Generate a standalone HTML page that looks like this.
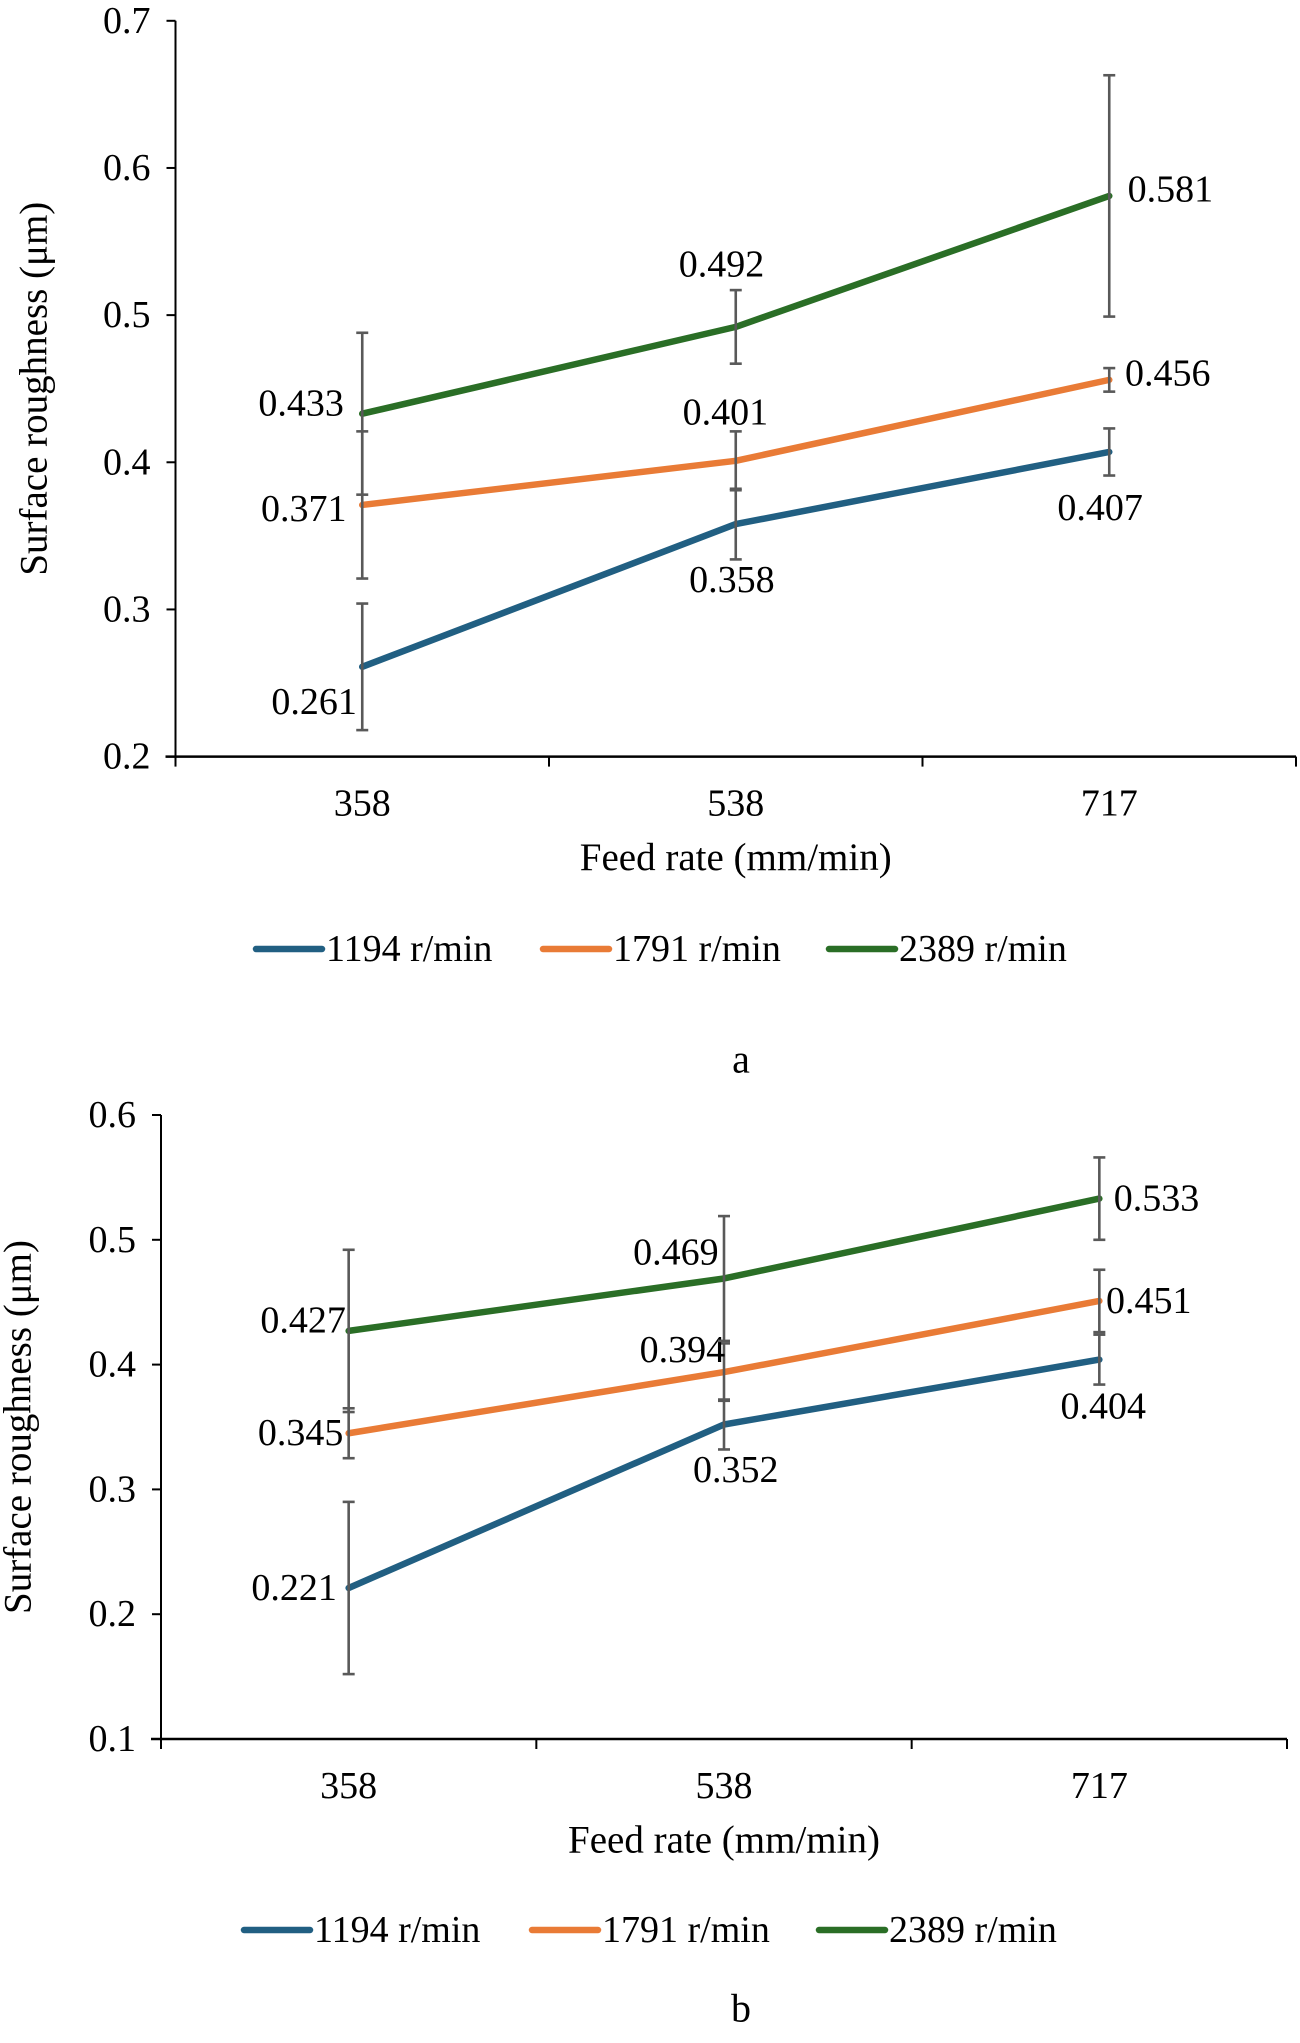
<!DOCTYPE html>
<html><head><meta charset="utf-8"><style>
html,body{margin:0;padding:0;background:#fff;}
svg{display:block;font-family:"Liberation Serif","Times New Roman",serif;}
</style></head><body>
<svg id="svg" width="1300" height="2043" viewBox="0 0 1300 2043"></svg>
<script>
const categories = ["358","538","717"];
const seriesNames = ["1194 r/min","1791 r/min","2389 r/min"];
const aValues1194 = [0.261,0.358,0.407];
const aValues1791 = [0.371,0.401,0.456];
const aValues2389 = [0.433,0.492,0.581];
const aErr1194 = [0.043,0.024,0.016];
const aErr1791 = [0.050,0.020,0.008];
const aErr2389 = [0.055,0.025,0.082];
const aTicks = [0.2,0.3,0.4,0.5,0.6,0.7];
const bValues1194 = [0.221,0.352,0.404];
const bValues1791 = [0.345,0.394,0.451];
const bValues2389 = [0.427,0.469,0.533];
const bErr1194 = [0.069,0.020,0.020];
const bErr1791 = [0.020,0.023,0.025];
const bErr2389 = [0.065,0.050,0.033];
const bTicks = [0.1,0.2,0.3,0.4,0.5,0.6];

const NS="http://www.w3.org/2000/svg";
const svg=document.getElementById('svg');
const colors=["#215f82","#e97b36","#2a6e26"];
function mk(tag,attrs,parent,text){const e=document.createElementNS(NS,tag);for(const k in attrs)e.setAttribute(k,attrs[k]);if(text!==undefined)e.textContent=text;(parent||svg).appendChild(e);return e;}

function chart(cfg){
  const g=mk('g',{});
  
  
  const ymin=cfg.ticks[0],ymax=cfg.ticks[cfg.ticks.length-1];
  const Y=v=>cfg.bottom-(v-ymin)/(ymax-ymin)*(cfg.bottom-cfg.top);
  const step=(cfg.right-cfg.left)/categories.length;
  const X=i=>cfg.left+step*(i+0.5);
  const ya=mk('line',{x1:cfg.left,y1:cfg.top,x2:cfg.left,y2:cfg.bottom,stroke:'#000','stroke-width':2},g);
  
  const xa=mk('line',{x1:cfg.left-10,y1:cfg.bottom,x2:cfg.right,y2:cfg.bottom,stroke:'#000','stroke-width':2.5},g);
  
  cfg.ticks.forEach(t=>{
    mk('line',{x1:cfg.left-9,y1:Y(t),x2:cfg.left,y2:Y(t),stroke:'#000','stroke-width':2},g);
    const tl=mk('text',{x:cfg.left-25,y:Y(t),'text-anchor':'end','dominant-baseline':'central','font-size':38},g,t.toFixed(1));
    
  });
  for(let i=0;i<=categories.length;i++){
    mk('line',{x1:cfg.left+step*i,y1:cfg.bottom,x2:cfg.left+step*i,y2:cfg.bottom+10,stroke:'#000','stroke-width':2},g);
  }
  categories.forEach((c,i)=>{
    const tl=mk('text',{x:X(i),y:cfg.bottom+47,'text-anchor':'middle','dominant-baseline':'central','font-size':38},g,c);
    
  });
  const xt=mk('text',{x:(cfg.left+cfg.right)/2,y:cfg.bottom+101,'text-anchor':'middle','dominant-baseline':'central','font-size':39},g,'Feed rate (mm/min)');
  
  const yt=mk('text',{x:0,y:0,'text-anchor':'middle','dominant-baseline':'central','font-size':39,transform:`translate(${cfg.ytx},${(cfg.top+cfg.bottom)/2}) rotate(-90)`},g,'Surface roughness (μm)');
  
  cfg.series.forEach((vals,s)=>{
    const pts=vals.map((v,i)=>X(i)+','+Y(v)).join(' ');
    const pl=mk('polyline',{points:pts,fill:'none',stroke:colors[s],'stroke-width':6.5,'stroke-linejoin':'round','stroke-linecap':'round'},g);
    
    
  });
  cfg.series.forEach((vals,s)=>{
    vals.forEach((v,i)=>{
      const e=cfg.errs[s][i];
      const eb=mk('g',{stroke:'#595959','stroke-width':2.6},g);
      
      mk('line',{x1:X(i),y1:Y(v+e),x2:X(i),y2:Y(v-e)},eb);
      mk('line',{x1:X(i)-6,y1:Y(v+e),x2:X(i)+6,y2:Y(v+e)},eb);
      mk('line',{x1:X(i)-6,y1:Y(v-e),x2:X(i)+6,y2:Y(v-e)},eb);
      const off=cfg.offs[s][i];
      const dl=mk('text',{x:X(i)+off[0]*1.3,y:Y(v)+off[1]*1.3,'text-anchor':'middle','dominant-baseline':'central','font-size':38},g,v.toFixed(3));
      
    });
  });
  seriesNames.forEach((n,s)=>{
    const lg=mk('g',{},g);
    
    const lx=cfg.legX[s];
    mk('line',{x1:lx,y1:cfg.legY,x2:lx+66,y2:cfg.legY,stroke:colors[s],'stroke-width':6.5,'stroke-linecap':'round'},lg);
    mk('text',{x:lx+70,y:cfg.legY,'dominant-baseline':'central','font-size':38},lg,n);
  });
  const cap=mk('text',{x:cfg.capX,y:cfg.capY,'text-anchor':'middle','dominant-baseline':'central','font-size':40},g,cfg.cap);
  
}

chart({name:'chart-a',left:175.5,right:1296,top:20.8,bottom:756.6,ticks:aTicks,ytx:34,
  series:[aValues1194,aValues1791,aValues2389],errs:[aErr1194,aErr1791,aErr2389],
  offs:[[[-37,27],[-3,43],[-7,43]],[[-45,3],[-8,-37],[45,-5]],[[-47,-8],[-11,-48],[47,-5]]],
  legX:[256,543,829],legY:949,cap:'a',capX:741,capY:1059});
chart({name:'chart-b',left:161,right:1287,top:1115,bottom:1739,ticks:bTicks,ytx:18,
  series:[bValues1194,bValues1791,bValues2389],errs:[bErr1194,bErr1791,bErr2389],
  offs:[[[-42,0],[9,35],[3,36]],[[-37,0],[-32,-17],[38,0]],[[-35,-8],[-37,-20],[44,0]]],
  legX:[244,532,819],legY:1930,cap:'b',capX:741,capY:2008});
</script>
</body></html>
